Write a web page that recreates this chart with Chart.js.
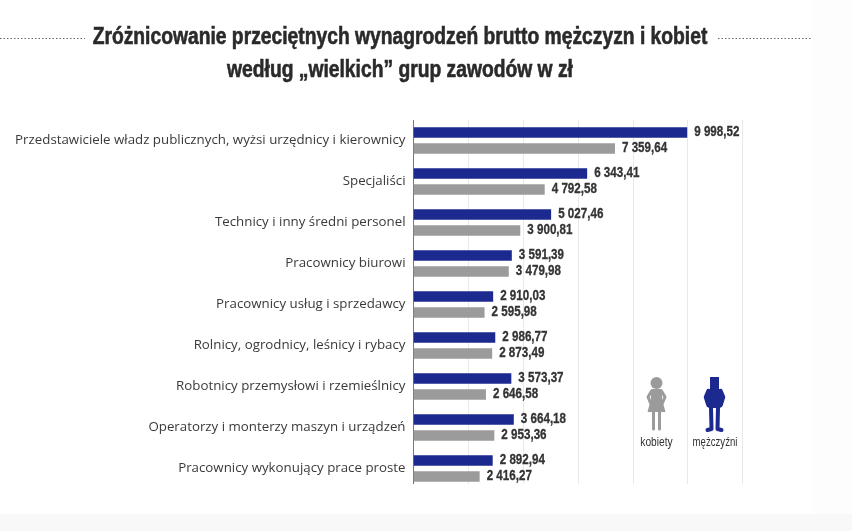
<!DOCTYPE html>
<html lang="pl">
<head>
  <meta charset="UTF-8">
  <title>Zróżnicowanie wynagrodzeń</title>
  <script src="https://cdn.jsdelivr.net/npm/chart.js"></script>
  <style>
    html, body { margin: 0; padding: 0; background: #f8f8f8; overflow: hidden; }
    .wrap { position: relative; width: 852px; height: 531px; }
    .page { position: absolute; left: 0; top: 0; width: 812px; height: 514px; background: #fff; }
    .page-r { position: absolute; left: 812px; top: 0; width: 40px; height: 514px; background: #fdfdfd; }
    canvas { position: absolute; left: 0; top: 0; }
  </style>
</head>
<body>
  <div class="wrap">
    <div class="page"></div>
    <div class="page-r"></div>
    <canvas id="chart" width="852" height="531"></canvas>
  </div>

  <script>
    const categories = [
      'Przedstawiciele władz publicznych, wyżsi urzędnicy i kierownicy',
      'Specjaliści',
      'Technicy i inny średni personel',
      'Pracownicy biurowi',
      'Pracownicy usług i sprzedawcy',
      'Rolnicy, ogrodnicy, leśnicy i rybacy',
      'Robotnicy przemysłowi i rzemieślnicy',
      'Operatorzy i monterzy maszyn i urządzeń',
      'Pracownicy wykonujący prace proste'
    ];
    const men = [9998.52, 6343.41, 5027.46, 3591.39, 2910.03, 2986.77, 3573.37, 3664.18, 2892.94];
    const women = [7359.64, 4792.58, 3900.81, 3479.98, 2595.98, 2873.49, 2646.58, 2953.36, 2416.27];
    const titleLines = ['Zróżnicowanie przeciętnych wynagrodzeń brutto mężczyzn i kobiet', 'według „wielkich” grup zawodów w zł'];
    const BLUE = '#1c2a8f';
    const GREY = '#9b9b9b';
    const SANS = '"Liberation Sans", sans-serif';

    // 9 998,52 - space for thousands, comma for decimals
    function formatPl(v) {
      const parts = v.toFixed(2).split('.');
      return parts[0].replace(/\B(?=(\d{3})+$)/g, ' ') + ',' + parts[1];
    }

    // no condensed font installed, so squeeze the text sideways
    function narrowText(ctx, text, x, y, sx, heavy) {
      ctx.save();
      ctx.translate(x, y);
      ctx.scale(sx, 1);
      ctx.fillText(text, 0, 0);
      if (heavy) {
        ctx.lineWidth = heavy;
        ctx.strokeStyle = ctx.fillStyle;
        ctx.strokeText(text, 0, 0);
      }
      ctx.restore();
    }

    // gridlines stop a little short of the category bands, as in the original
    const gridPlugin = {
      id: 'gridLines',
      beforeDatasetsDraw(chart) {
        const { ctx, scales } = chart;
        ctx.save();
        ctx.lineWidth = 1;
        ctx.strokeStyle = '#e9e9e9';
        scales.x.ticks.forEach(t => {
          if (t.value === 0) return;
          const x = Math.round(scales.x.getPixelForValue(t.value)) + 0.5;
          ctx.beginPath();
          ctx.moveTo(x, 120);
          ctx.lineTo(x, 484);
          ctx.stroke();
        });
        ctx.strokeStyle = '#777';
        const x0 = Math.round(scales.x.getPixelForValue(0)) - 0.5;
        ctx.beginPath();
        ctx.moveTo(x0, 120);
        ctx.lineTo(x0, 484);
        ctx.stroke();
        ctx.restore();
      }
    };

    const valueLabels = {
      id: 'valueLabels',
      afterDatasetsDraw(chart) {
        const { ctx } = chart;
        ctx.save();
        ctx.font = 'bold 14px ' + SANS;
        ctx.fillStyle = '#333';
        ctx.textBaseline = 'middle';
        chart.data.datasets.forEach((ds, i) => {
          chart.getDatasetMeta(i).data.forEach((bar, j) => {
            narrowText(ctx, formatPl(ds.data[j]), bar.x + 7, bar.y, 0.83, 0.3);
          });
        });
        ctx.restore();
      }
    };

    function limb(ctx, pts, w) {
      ctx.lineWidth = w;
      ctx.beginPath();
      pts.forEach((p, i) => (i ? ctx.lineTo(p[0], p[1]) : ctx.moveTo(p[0], p[1])));
      ctx.stroke();
    }

    function drawWoman(ctx, cx) {
      ctx.fillStyle = GREY;
      ctx.strokeStyle = GREY;
      ctx.lineCap = 'round';
      ctx.lineJoin = 'round';
      ctx.beginPath();
      ctx.arc(cx, 383, 6, 0, Math.PI * 2);
      ctx.fill();
      ctx.beginPath();
      ctx.moveTo(cx - 5, 389);
      ctx.lineTo(cx + 5, 389);
      ctx.lineTo(cx + 6, 401);
      ctx.lineTo(cx + 9, 412);
      ctx.lineTo(cx - 9, 412);
      ctx.lineTo(cx - 6, 401);
      ctx.closePath();
      ctx.fill();
      limb(ctx, [[cx - 5, 391], [cx - 8.5, 397], [cx - 6, 403]], 3);
      limb(ctx, [[cx + 5, 391], [cx + 8.5, 397], [cx + 6, 403]], 3);
      limb(ctx, [[cx - 3, 412], [cx - 3, 429]], 3);
      limb(ctx, [[cx + 3, 412], [cx + 3, 429]], 3);
    }

    function drawMan(ctx, cx) {
      ctx.fillStyle = BLUE;
      ctx.strokeStyle = BLUE;
      ctx.lineCap = 'round';
      ctx.lineJoin = 'round';
      ctx.fillRect(cx - 4.5, 377, 9, 12);
      ctx.beginPath();
      ctx.moveTo(cx - 7, 389);
      ctx.lineTo(cx + 7, 389);
      ctx.lineTo(cx + 6, 408);
      ctx.lineTo(cx - 6, 408);
      ctx.closePath();
      ctx.fill();
      limb(ctx, [[cx - 6, 391], [cx - 8.5, 397], [cx - 6, 405]], 4.5);
      limb(ctx, [[cx + 6, 391], [cx + 8.5, 397], [cx + 6, 405]], 4.5);
      limb(ctx, [[cx - 3.5, 408], [cx - 3, 429], [cx - 7, 430]], 4);
      limb(ctx, [[cx + 3.5, 408], [cx + 3, 429], [cx + 7, 430]], 4);
    }

    const decoration = {
      id: 'decoration',
      afterDraw(chart) {
        const { ctx } = chart;
        ctx.save();
        ctx.fillStyle = '#2a2a2a';
        ctx.font = 'bold 23px ' + SANS;
        ctx.textAlign = 'center';
        ctx.textBaseline = 'middle';
        narrowText(ctx, titleLines[0], 400, 38, 0.838, 0.6);
        narrowText(ctx, titleLines[1], 400, 71, 0.838, 0.6);

        ctx.strokeStyle = '#666';
        ctx.lineWidth = 1;
        ctx.setLineDash([1.5, 2]);
        [[0, 85], [718, 811]].forEach(seg => {
          ctx.beginPath();
          ctx.moveTo(seg[0], 38.5);
          ctx.lineTo(seg[1], 38.5);
          ctx.stroke();
        });
        ctx.setLineDash([]);

        drawWoman(ctx, 656.5);
        drawMan(ctx, 714.5);
        ctx.fillStyle = '#333';
        ctx.font = '12px ' + SANS;
        narrowText(ctx, 'kobiety', 656.5, 443, 0.85);
        narrowText(ctx, 'mężczyźni', 715, 443, 0.8);
        ctx.restore();
      }
    };

    new Chart(document.getElementById('chart'), {
      type: 'bar',
      data: {
        labels: categories,
        datasets: [
          { label: 'mężczyźni', data: men, backgroundColor: BLUE },
          { label: 'kobiety', data: women, backgroundColor: GREY }
        ]
      },
      options: {
        indexAxis: 'y',
        responsive: false,
        animation: false,
        layout: { padding: { top: 120, bottom: 42, right: 110, left: 0 } },
        datasets: { bar: { categoryPercentage: 0.78, barPercentage: 0.66 } },
        plugins: { legend: { display: false }, title: { display: false }, tooltip: { enabled: false } },
        scales: {
          x: {
            min: 0,
            max: 12000,
            display: false,
            ticks: { stepSize: 2000 }
          },
          y: {
            grid: { display: false, drawTicks: false },
            border: { display: false },
            afterFit(scale) { scale.width = 413.5; },
            ticks: {
              color: '#3a3a3a',
              padding: 8,
              autoSkip: false,
              font: { family: '"Open Sans", sans-serif', size: 13.3 }
            }
          }
        }
      },
      plugins: [gridPlugin, valueLabels, decoration]
    });
  </script>
</body>
</html>
